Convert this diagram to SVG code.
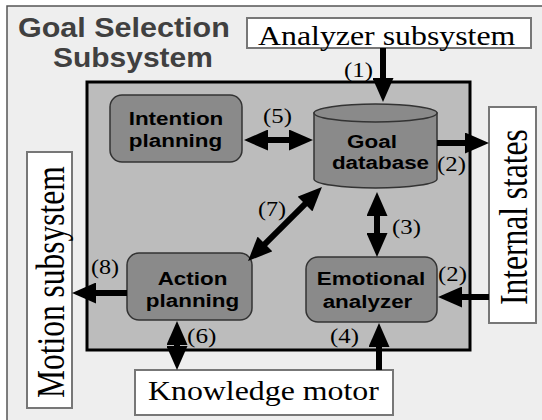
<svg xmlns="http://www.w3.org/2000/svg" width="542" height="420" viewBox="0 0 542 420">
  <style>
    .serif { font-family: "Liberation Serif", "Times New Roman", serif; fill: #000; }
    .ser26 { font-size: 27px; }
    .sans { font-family: "Liberation Sans", Arial, sans-serif; font-weight: bold; fill: #000; font-size: 19px; text-anchor: middle; }
    .title { font-family: "Liberation Sans", Arial, sans-serif; font-weight: bold; fill: #404040; font-size: 27px; }
    .ext { fill: #fff; stroke: #777; stroke-width: 2; }
    .proc { fill: #8a8a8a; stroke: #333; stroke-width: 1.5; }
    .num { font-family: "Liberation Serif", "Times New Roman", serif; font-size: 21px; fill: #000; }
    .link { stroke: #000; stroke-width: 6; fill: none; marker-end: url(#ah); }
    .both { marker-start: url(#ah); }
  </style>
  <defs>
    <marker id="ah" markerUnits="userSpaceOnUse" viewBox="0 0 24 21" markerWidth="24" markerHeight="21" refX="1" refY="10.5" orient="auto-start-reverse">
      <path d="M0,0 L24,10.5 L0,21 Z" fill="#000"/>
    </marker>
  </defs>

  <!-- page and subsystem frame -->
  <rect x="0" y="0" width="542" height="420" fill="#fff"/>
  <rect x="7" y="6" width="545" height="425" fill="#eeeeee" stroke="#555" stroke-width="1.5"/>
  <text class="title" transform="translate(18,37) scale(1.13,1)">Goal Selection</text>
  <text class="title" transform="translate(53,67) scale(1.11,1)">Subsystem</text>

  <!-- inner processing area -->
  <rect x="87" y="82" width="383" height="268" fill="#bcbcbc" stroke="#000" stroke-width="3"/>

  <!-- external subsystems -->
  <g id="analyzer-subsystem">
    <rect class="ext" x="247" y="18" width="284" height="30"/>
    <text class="serif ser26" transform="translate(258,45) scale(1.18,1)">Analyzer subsystem</text>
  </g>
  <g id="knowledge-motor">
    <rect class="ext" x="135" y="370" width="258" height="45"/>
    <text class="serif ser26" transform="translate(148,400) scale(1.18,1)">Knowledge motor</text>
  </g>
  <g id="motion-subsystem">
    <rect class="ext" x="27" y="152" width="45" height="256"/>
    <text class="serif" transform="translate(64,398) rotate(-90) scale(1,1.3)" font-size="31.5">Motion subsystem</text>
  </g>
  <g id="internal-states">
    <rect class="ext" x="489" y="107" width="47" height="216"/>
    <text class="serif" transform="translate(527,305) rotate(-90) scale(1,1.3)" font-size="31.5">Internal states</text>
  </g>

  <!-- internal modules -->
  <g id="intention-planning">
    <rect class="proc" x="110" y="95" width="132" height="67" rx="12"/>
    <text class="sans" transform="translate(176,125) scale(1.18,1)">Intention</text>
    <text class="sans" transform="translate(175.5,147) scale(1.18,1)">planning</text>
  </g>
  <g id="goal-database">
    <path class="proc" d="M314,113 L314,179 A61.5,9 0 0 0 437,179 L437,113 Z"/>
    <ellipse class="proc" cx="375.5" cy="113" rx="61.5" ry="9"/>
    <text class="sans" transform="translate(372,148) scale(1.18,1)">Goal</text>
    <text class="sans" transform="translate(380.5,169) scale(1.18,1)">database</text>
  </g>
  <g id="action-planning">
    <rect class="proc" x="127" y="253" width="125" height="67" rx="12"/>
    <text class="sans" transform="translate(192.5,285) scale(1.18,1)">Action</text>
    <text class="sans" transform="translate(192.5,307) scale(1.18,1)">planning</text>
  </g>
  <g id="emotional-analyzer">
    <rect class="proc" x="306" y="257" width="131" height="65" rx="12"/>
    <text class="sans" transform="translate(371,285) scale(1.18,1)">Emotional</text>
    <text class="sans" transform="translate(367.5,308) scale(1.18,1)">analyzer</text>
  </g>

  <!-- connectors -->
  <g id="connectors">
    <line class="link" x1="383" y1="48" x2="383" y2="79"/>
    <line class="link both" x1="267" y1="140" x2="290" y2="140"/>
    <line class="link" x1="437" y1="143" x2="466" y2="143"/>
    <line class="link both" x1="377" y1="215" x2="377" y2="234"/>
    <line class="link both" x1="305.7" y1="203.3" x2="264.3" y2="244.7"/>
    <line class="link" x1="489" y1="297" x2="461" y2="297"/>
    <line class="link" x1="379" y1="370" x2="379" y2="346"/>
    <line class="link both" x1="177" y1="344" x2="177" y2="347"/>
    <line class="link" x1="127" y1="293" x2="95" y2="293"/>

    <text class="num" transform="translate(344,77) scale(1.18,1)">(1)</text>
    <text class="num" transform="translate(263,123) scale(1.18,1)">(5)</text>
    <text class="num" transform="translate(437,171) scale(1.18,1)">(2)</text>
    <text class="num" transform="translate(258,216) scale(1.15,1)">(7)</text>
    <text class="num" transform="translate(392,234) scale(1.18,1)">(3)</text>
    <text class="num" transform="translate(438,281) scale(1.18,1)">(2)</text>
    <text class="num" transform="translate(330,343) scale(1.18,1)">(4)</text>
    <text class="num" transform="translate(187,343) scale(1.2,1)">(6)</text>
    <text class="num" transform="translate(91,274) scale(1.15,1)">(8)</text>
  </g>
</svg>
